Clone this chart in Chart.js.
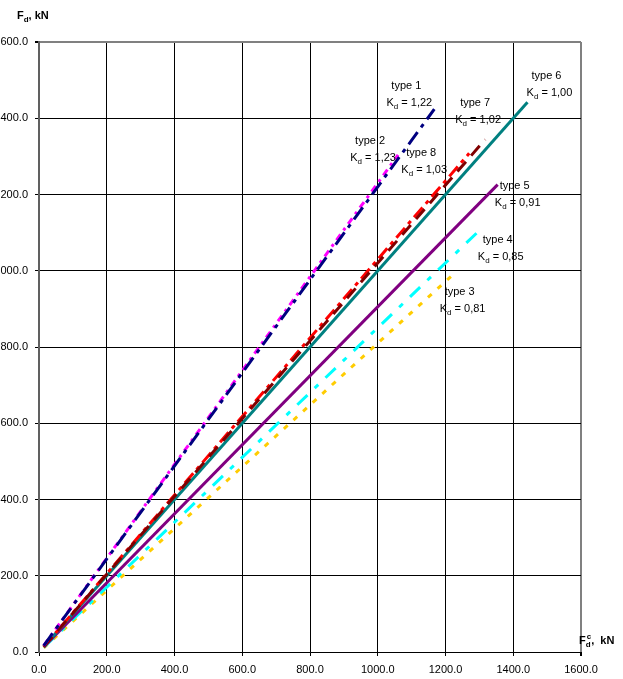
<!DOCTYPE html>
<html>
<head>
<meta charset="utf-8">
<script src="https://cdn.jsdelivr.net/npm/chart.js@4/dist/chart.umd.min.js"></script>
<style>
  html, body { margin: 0; padding: 0; background: #fff; overflow: hidden; }
  #wrap { position: relative; width: 623px; height: 679px; }
</style>
</head>
<body>
<div id="wrap"><canvas id="myChart" width="623" height="679"></canvas></div>
<script>
// series: Fd^c (x) vs Fd (y)
const names = ['type 1', 'type 2', 'type 7', 'type 8', 'type 6', 'type 5', 'type 4', 'type 3'];
const kdText = ['1,22', '1,23', '1,02', '1,03', '1,00', '0,91', '0,85', '0,81'];

const type1X = [14, 1167];  const type1Y = [17, 1424];
const type2X = [14, 1060];  const type2Y = [17, 1304];
const type7X = [14, 1317];  const type7Y = [14, 1344];
const type8X = [14, 1270];  const type8Y = [14, 1308];
const type6X = [14, 1442];  const type6Y = [14, 1442];
const type5X = [14, 1354];  const type5Y = [13, 1226];
const type4X = [14, 1304];  const type4Y = [12, 1109];
const type3X = [14, 1221];  const type3Y = [11, 989];

const xTicks = [0, 200, 400, 600, 800, 1000, 1200, 1400, 1600];
const yTicks = [0, 200, 400, 600, 800, 1000, 1200, 1400, 1600];

const seriesX = [type1X, type2X, type7X, type8X, type6X, type5X, type4X, type3X];
const seriesY = [type1Y, type2Y, type7Y, type8Y, type6Y, type5Y, type4Y, type3Y];

// styles
const colors = ['#000080', '#ff00ff', '#800000', '#ff0000', '#008080', '#800080', '#00ffff', '#ffcc00'];
const dashes = [[15, 6, 4, 6], [7, 5, 3, 5], [13, 8], [13, 5, 4, 5], [], [], [14, 10, 5, 10], [5, 8]];
// label offsets from the end of each line (px): dx, dy of first line
const labelOff = [[-28, -24], [-28, -15], [-10, -38], [-48, -1], [19, -27], [17, 0], [17, 10], [7, 16]];

const datasets = names.map((n, i) => ({
  label: n,
  data: seriesX[i].map((x, j) => ({ x: x, y: seriesY[i][j] })),
  showLine: true,
  borderColor: colors[i],
  backgroundColor: colors[i],
  borderWidth: 3,
  borderDash: dashes[i],
  pointRadius: 0,
  fill: false
}));

const FONT = '"Liberation Sans", Arial, sans-serif';

function drawSub(ctx, x, y, main, sub, sup, bold, size) {
  const w = bold ? 'bold ' : '';
  ctx.font = w + size + 'px ' + FONT;
  ctx.fillText(main, x, y);
  let cx = x + ctx.measureText(main).width;
  ctx.font = w + Math.round(size * 0.7) + 'px ' + FONT;
  let sw = ctx.measureText(sub).width;
  ctx.fillText(sub, cx, y + 3);
  if (sup) {
    ctx.fillText(sup, cx + 1, y - 5);
    sw = Math.max(sw, ctx.measureText(sup).width + 1);
  }
  return cx + sw;
}

const labelsPlugin = {
  id: 'labels',
  afterDraw(chart) {
    const ctx = chart.ctx;
    const xs = chart.scales.x, ys = chart.scales.y;
    ctx.save();
    ctx.fillStyle = '#000';
    ctx.textBaseline = 'alphabetic';
    ctx.textAlign = 'left';

    names.forEach((n, i) => {
      const xv = seriesX[i][seriesX[i].length - 1];
      const yv = seriesY[i][seriesY[i].length - 1];
      const px = xs.getPixelForValue(xv) + labelOff[i][0];
      const py = ys.getPixelForValue(yv) + labelOff[i][1];
      ctx.font = '11px ' + FONT;
      const w1 = ctx.measureText(n).width;
      ctx.fillText(n, px - w1 / 2, py + 4);
      // K_d = value
      const rest = ' = ' + kdText[i];
      ctx.font = '11px ' + FONT;
      const wk = ctx.measureText('K').width;
      const wr = ctx.measureText(rest).width;
      ctx.font = '8px ' + FONT;
      const wd = ctx.measureText('d').width;
      const total = wk + wd + wr;
      let sx = px + 3 - total / 2;
      const by = py + 21;
      const ex = drawSub(ctx, sx, by, 'K', 'd', null, false, 11);
      ctx.font = '11px ' + FONT;
      ctx.fillText(rest, ex, by);
    });

    // axis titles
    let e = drawSub(ctx, 17, 19, 'F', 'd', null, true, 11);
    ctx.font = 'bold 11px ' + FONT;
    ctx.fillText(', kN', e, 19);

    e = drawSub(ctx, 579, 644, 'F', 'd', 'c', true, 11);
    ctx.font = 'bold 11px ' + FONT;
    ctx.fillText(',  kN', e, 644);
    ctx.restore();
  }
};

const gridColor = ctx => (ctx.tick && ctx.tick.value === 1600) ? '#808080' : '#000000';
const gridWidth = ctx => (ctx.tick && ctx.tick.value === 1600) ? 2 : 1;

const myChart = new Chart(document.getElementById('myChart'), {
  type: 'scatter',
  data: { datasets: datasets },
  options: {
    responsive: false,
    animation: false,
    events: [],
    layout: { padding: { top: 42, right: 42, bottom: 0, left: 0 } },
    plugins: { legend: { display: false }, tooltip: { enabled: false } },
    scales: {
      x: {
        type: 'linear',
        min: 0, max: 1600,
        afterBuildTicks: s => { s.ticks = xTicks.map(v => ({ value: v })); },
        afterFit: s => { s.height = 27; },
        grid: { color: gridColor, lineWidth: gridWidth, tickLength: 4, tickColor: '#000' },
        border: { color: '#000', width: 1 },
        ticks: {
          padding: 7,
          color: '#000',
          font: { family: FONT, size: 11 },
          maxRotation: 0,
          callback: v => v.toFixed(1)
        }
      },
      y: {
        type: 'linear',
        min: 0, max: 1600,
        afterBuildTicks: s => { s.ticks = yTicks.map(v => ({ value: v })); },
        afterFit: s => { s.width = 39; },
        grid: { color: gridColor, lineWidth: gridWidth, tickLength: 4, tickColor: '#000' },
        border: { color: '#606060', width: 2 },
        ticks: {
          padding: 7,
          color: '#000',
          font: { family: FONT, size: 11 },
          callback: v => v.toFixed(1)
        }
      }
    }
  },
  plugins: [labelsPlugin]
});
</script>
</body>
</html>
